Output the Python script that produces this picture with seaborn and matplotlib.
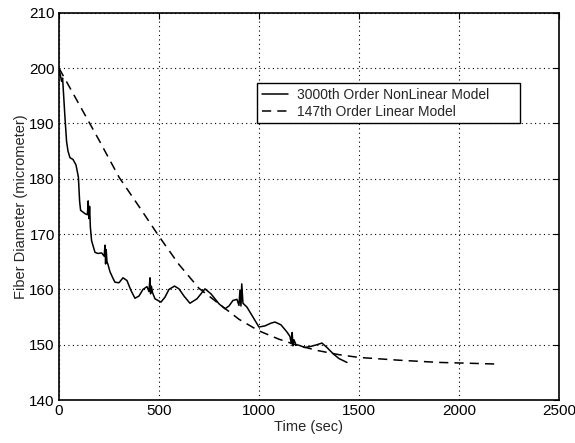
import numpy as np
import pandas as pd
import seaborn as sns
import matplotlib.pyplot as plt

# values
t_nonlin = [0, 13, 18, 22, 30, 38, 45, 55, 70, 85, 97, 103, 108, 130, 142, 146, 150, 153,
            157, 163, 180, 195, 213, 226, 230, 233, 236, 240, 245, 255, 270, 280, 300,
            320, 340, 360, 380, 400, 420, 440, 450, 455, 458, 462, 468, 480, 510, 530,
            550, 578, 600, 625, 655, 690, 730, 760, 800, 830, 850, 870, 890, 900, 905,
            910, 914, 920, 940, 970, 1000, 1030, 1060, 1080, 1110, 1140, 1155, 1162,
            1166, 1170, 1175, 1185, 1200, 1230, 1260, 1290, 1315, 1340, 1370, 1400, 1440]
d_nonlin = [200, 197.6, 198.2, 195.8, 191, 186.7, 185, 183.8, 183.5, 182.5, 180.3, 176,
            174.3, 173.7, 173.5, 176, 172.8, 175, 171.2, 168.8, 166.7, 166.5, 166.6, 166,
            168, 164.6, 167.2, 165, 164.5, 163.2, 162, 161.3, 161.2, 162.1, 161.6,
            159.8, 158.4, 158.8, 160, 160.5, 159.6, 162.1, 159.2, 160.6, 159.4, 158.3,
            157.7, 158.6, 160, 160.6, 160.1, 158.8, 157.5, 158.3, 160.1, 159.2, 157.4,
            156.5, 157, 158, 158.2, 157.1, 159.9, 157, 161, 157.5, 156.8, 155, 153.2,
            153.4, 153.9, 154.1, 153.6, 152.3, 151.5, 150.2, 152.2, 149.8, 150.9, 150,
            149.9, 149.5, 149.7, 150, 150.3, 149.5, 148.4, 147.5, 146.8]

t_lin = [0, 100, 200, 300, 400, 500, 600, 700, 800, 900, 1000, 1100, 1200, 1300, 1400,
         1500, 1700, 1900, 2000, 2100, 2190]
d_lin = [200, 193.5, 187, 180.3, 175, 169.6, 164.5, 160.2, 157.4, 154.6, 152.5, 151,
         149.8, 148.9, 148.2, 147.7, 147.2, 146.8, 146.7, 146.6, 146.5]

label_nonlin = "3000th Order NonLinear Model"
label_lin = "147th Order Linear Model"

df_nonlin = pd.DataFrame({"time": t_nonlin, "diam": d_nonlin})
df_lin = pd.DataFrame({"time": t_lin, "diam": d_lin})

sns.set_style("white")
plt.rcParams["font.family"] = ["Liberation Sans", "DejaVu Sans"]

fig, ax = plt.subplots(figsize=(5.75, 4.43), dpi=100)
fig.subplots_adjust(left=0.1026, right=0.972, bottom=0.097, top=0.971)

sns.lineplot(data=df_nonlin, x="time", y="diam", ax=ax, color="black", lw=1.1,
             label=label_nonlin, sort=False)
sns.lineplot(data=df_lin, x="time", y="diam", ax=ax, color="black", lw=1.1,
             linestyle=(0, (6, 4)), label=label_lin, sort=False)

ax.set_xlim(0, 2500)
ax.set_ylim(140, 210)
ax.set_xticks(range(0, 2501, 500))
ax.set_yticks(range(140, 211, 10))
ax.grid(True, color="black", linestyle=(0, (1, 3)), linewidth=0.8)
ax.tick_params(direction="in", top=True, right=True, length=4, color="black",
               labelsize=11, labelcolor="black", pad=3)
for s in ax.spines.values():
    s.set_color("black")
    s.set_linewidth(1.2)

ax.set_xlabel("Time (sec)", fontsize=10.5, labelpad=1)
ax.set_ylabel("Fiber Diameter (micrometer)", fontsize=10.5, labelpad=1)

# MATLAB-like legend box, wider than its text
leg = ax.legend(loc="upper left", bbox_to_anchor=(0.396, 0.718, 0.526, 0.101),
                mode="expand", fontsize=10, frameon=True, fancybox=False,
                borderpad=0.35, handlelength=1.9, handletextpad=0.65,
                labelspacing=0.2, borderaxespad=0)
leg.get_frame().set_edgecolor("black")
leg.get_frame().set_linewidth(1.0)
leg.get_frame().set_alpha(1)

fig.savefig("out.png", dpi=100)
